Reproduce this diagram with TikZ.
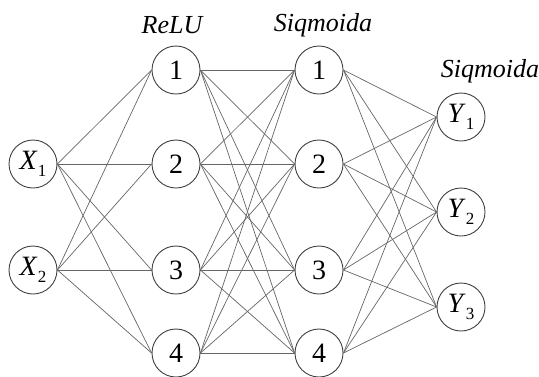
\documentclass[tikz,border=0pt]{standalone}
\usepackage{fontspec}
\setmainfont{Liberation Serif}
\usepackage{tikz}

\newcommand{\unitname}[2]{\textit{#1}\raisebox{-0.55ex}{\fontsize{8.5}{8.5}\selectfont #2}}

\begin{document}
\begin{tikzpicture}[x=0.5pt, y=-0.5pt,
    neuron/.style={circle, draw=black!75, line width=0.45pt, minimum size=24pt,
      inner sep=0pt, font=\fontsize{14}{14}\selectfont},
    link/.style={draw=black!60, line width=0.35pt},
    layername/.style={font=\fontsize{13}{13}\selectfont\itshape}]
    \useasboundingbox (0, 0) rectangle (539, 376);

    % input layer
    \node[neuron] (x1) at (33, 164) {\unitname{X}{1}};
    \node[neuron] (x2) at (33, 270) {\unitname{X}{2}};

    % first hidden layer
    \node[neuron] (a1) at (176, 70) {1};
    \node[neuron] (a2) at (176, 164) {2};
    \node[neuron] (a3) at (176, 270) {3};
    \node[neuron] (a4) at (176, 353) {4};

    % second hidden layer
    \node[neuron] (b1) at (319, 70) {1};
    \node[neuron] (b2) at (319, 164) {2};
    \node[neuron] (b3) at (319, 270) {3};
    \node[neuron] (b4) at (319, 353) {4};

    % output layer
    \node[neuron] (y1) at (461, 117) {\unitname{Y}{1}};
    \node[neuron] (y2) at (461, 212) {\unitname{Y}{2}};
    \node[neuron] (y3) at (461, 307) {\unitname{Y}{3}};

    % activation labels
    \node[layername] (reluname) at (172, 25) {ReLU};
    \node[layername] (signame) at (323, 25) {Siqmoida};
    \node[layername] (outname) at (490, 71) {Siqmoida};

    % connections
    \foreach \i in {1,2}
      \foreach \j in {1,...,4}
        \draw[link] (x\i.east) -- (a\j.west);
    \foreach \i in {1,...,4}
      \foreach \j in {1,...,4}
        \draw[link] (a\i.east) -- (b\j.west);
    \foreach \i in {1,...,4}
      \foreach \j in {1,2,3}
        \draw[link] (b\i.east) -- (y\j.west);
\end{tikzpicture}
\end{document}
